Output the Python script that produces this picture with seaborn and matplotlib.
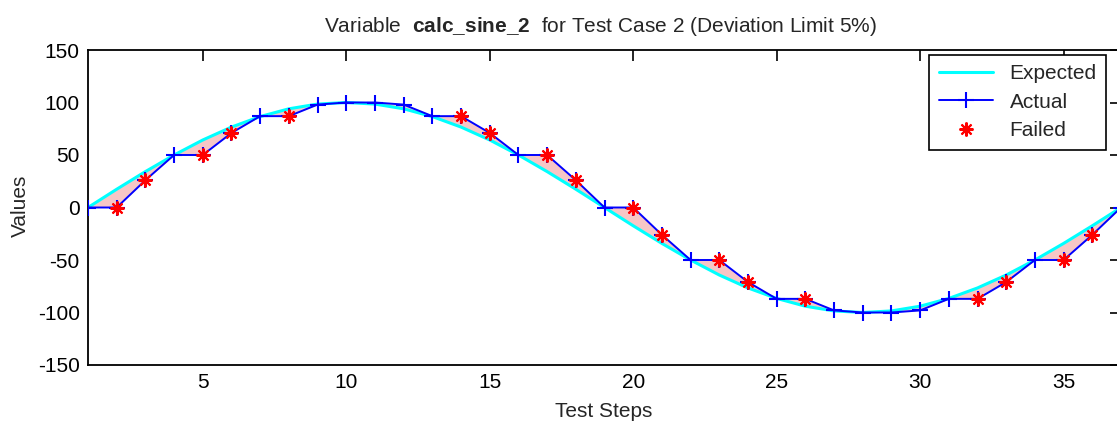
import numpy as np
import pandas as pd
import matplotlib
matplotlib.use("Agg")
import matplotlib.pyplot as plt
import seaborn as sns

steps = list(range(1, 38))
expected = [0, 17.4, 34.2, 50, 64.3, 76.6, 86.6, 94.0, 98.5, 100, 98.5, 94.0, 86.6,
            76.6, 64.3, 50, 34.2, 17.4, 0, -17.4, -34.2, -50, -64.3, -76.6, -86.6,
            -94.0, -98.5, -100, -98.5, -94.0, -86.6, -76.6, -64.3, -50, -34.2, -17.4, 0]
actual = [0, 0, 26, 50, 50, 71, 87, 87, 98, 100, 100, 98, 87, 87, 71, 50, 50, 26, 0,
          0, -26, -50, -50, -71, -87, -87, -98, -100, -100, -98, -87, -87, -71, -50,
          -50, -26, 0]
failed_steps = [2, 3, 5, 6, 8, 14, 15, 17, 18, 20, 21, 23, 24, 26, 32, 33, 35, 36]
xticks = [5, 10, 15, 20, 25, 30, 35]
yticks = [-150, -100, -50, 0, 50, 100, 150]

sns.set_style("white")
plt.rcParams["font.family"] = ["Liberation Sans", "DejaVu Sans"]
plt.rcParams["mathtext.fontset"] = "custom"
plt.rcParams["mathtext.rm"] = "Liberation Sans"
plt.rcParams["mathtext.bf"] = "Liberation Sans:bold"
plt.rcParams["axes.unicode_minus"] = False

FS = 15

df = pd.DataFrame({"step": steps, "expected": expected, "actual": actual})
fail_df = df[df["step"].isin(failed_steps)]

W, H = 1117, 421
fig = plt.figure(figsize=(W / 100, H / 100), dpi=100)
ax = fig.add_axes([88 / W, 1 - 365 / H, (1121 - 88) / W, (365 - 50) / H])

ax.fill_between(df["step"], df["expected"], df["actual"], color="#f7c6c6", linewidth=0, zorder=1)
sns.lineplot(data=df, x="step", y="expected", ax=ax, color="#00ffff", linewidth=2.2,
             label="Expected", zorder=2)
sns.lineplot(data=df, x="step", y="actual", ax=ax, color="#0000ff", linewidth=1.4,
             marker="+", markersize=12, markeredgewidth=1.5, markeredgecolor="#0000ff",
             label="Actual", zorder=3)
sns.lineplot(data=fail_df, x="step", y="actual", ax=ax, linestyle="none", color="red",
             marker=(8, 2, 0), markersize=10, markeredgewidth=1.5, markeredgecolor="red",
             label="Failed", zorder=4)

ax.set_xlim(1, 37)
ax.set_ylim(-150, 150)
ax.set_xticks(xticks)
ax.set_yticks(yticks)
ax.tick_params(direction="in", length=8, width=1.2, top=True, right=True,
               labelsize=FS, colors="black", pad=6)
for s in ax.spines.values():
    s.set_color("black")
    s.set_linewidth(1.3)
ax.set_xlabel("")
ax.set_ylabel("")

fig.text(604 / W, 1 - 417 / H, "Test Steps", ha="center", va="baseline", fontsize=FS)
fig.text(20 / W, 1 - 206 / H, "Values", ha="center", va="center", rotation=90, fontsize=FS)
fig.text(600 / W, 1 - 32 / H,
         r"Variable  $\mathbf{calc\_sine\_2}$  for Test Case 2 (Deviation Limit 5%)",
         ha="center", va="baseline", fontsize=FS)

leg = ax.legend(loc="upper right", bbox_to_anchor=(1106 / W, 1 - 55 / H),
                bbox_transform=fig.transFigure, borderaxespad=0, fontsize=FS,
                frameon=True, fancybox=False, framealpha=1, edgecolor="black",
                handlelength=2.6, borderpad=0.45, labelspacing=0.45, handletextpad=0.8)
leg.get_frame().set_linewidth(1.2)

fig.savefig("out.png", dpi=100)
